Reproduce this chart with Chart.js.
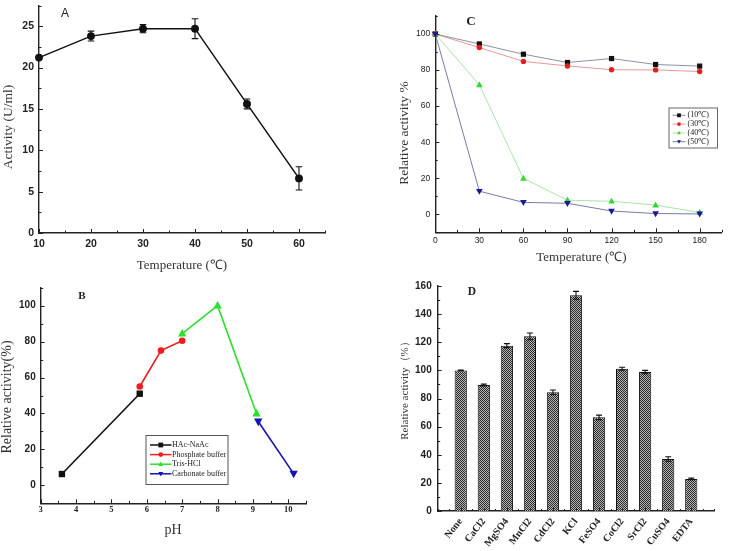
<!DOCTYPE html>
<html>
<head>
<meta charset="utf-8">
<script src="https://cdn.jsdelivr.net/npm/chart.js@4.4.1/dist/chart.umd.min.js"></script>
<style>
  body { margin: 0; background: #fff; overflow: hidden; }
  #wrap { position: relative; width: 730px; height: 551px; }
  #wrap canvas { position: absolute; }
</style>
</head>
<body>
<div id="wrap">
  <canvas id="chartA" width="365" height="275" style="left:0;top:0"></canvas>
  <canvas id="chartC" width="365" height="275" style="left:365px;top:0"></canvas>
  <canvas id="chartB" width="365" height="276" style="left:0;top:275px"></canvas>
  <canvas id="chartD" width="365" height="276" style="left:365px;top:275px"></canvas>
</div>
<script>
// A: activity vs temperature
const tempA = [10, 20, 30, 40, 50, 60];
const activityA = [21.2, 23.8, 24.7, 24.7, 15.6, 6.6];
const activityErrA = [0, 0.6, 0.5, 1.2, 0.6, 1.4];
const ticksAx = [10, 20, 30, 40, 50, 60];
const ticksAy = [0, 5, 10, 15, 20, 25];

// B: pH profile, one series per buffer
const phAcetate = [3.6, 5.8];
const relAcetate = [6.3, 51];
const phPhosphate = [5.8, 6.4, 7.0];
const relPhosphate = [55, 75, 80.5];
const phTris = [7.0, 8.0, 9.1];
const relTris = [84.5, 100, 40];
const phCarbonate = [9.15, 10.15];
const relCarbonate = [35.5, 6.5];
const ticksBx = [3, 4, 5, 6, 7, 8, 9, 10];
const ticksBy = [0, 20, 40, 60, 80, 100];

// C: thermal stability
const timeC = [0, 30, 60, 90, 120, 150, 180];
const rel10 = [100, 94.5, 88.8, 84.2, 86.4, 83.1, 82.2];
const rel30 = [100, 92.5, 84.8, 82.3, 80.2, 80.1, 79.2];
const rel40 = [100, 71.8, 19.9, 7.8, 7.2, 5.1, 1.0];
const rel50 = [100, 12.8, 6.6, 6.1, 1.8, 0.4, 0.2];
const ticksCx = [0, 30, 60, 90, 120, 150, 180];
const ticksCy = [0, 20, 40, 60, 80, 100];

// D: effect of metal ions
const ions = ['None', 'CaCl2', 'MgSO4', 'MnCl2', 'CdCl2', 'KCl', 'FeSO4', 'CoCl2', 'SrCl2', 'CuSO4', 'EDTA'];
const ionActivity = [100, 89.6, 117.6, 124.2, 84.4, 153.4, 66.6, 101.2, 98.8, 37.0, 22.8];
const ionErr = [0.3, 0.6, 1.4, 2.4, 1.6, 2.8, 1.6, 1.0, 1.2, 1.6, 0.6];
const ticksDy = [0, 20, 40, 60, 80, 100, 120, 140, 160];

const SANS = "'Liberation Sans', Arial, sans-serif";
const SERIF = "'Liberation Serif', 'Times New Roman', serif";

function xy(xs, ys) {
  return xs.map((x, i) => ({ x: x, y: ys[i] }));
}

// linear axis with fixed ticks and a fixed box size so the plot area lands where it should
function axis(min, max, values, size, font, pad, tickExtra) {
  return {
    type: 'linear', min: min, max: max, offset: false,
    grid: { display: false, drawTicks: false, offset: false },
    border: { display: true, color: '#222', width: 1.4 },
    ticks: Object.assign({ font: font, color: '#222', padding: pad, autoSkip: false,
                           minRotation: 0, maxRotation: 0 }, tickExtra || {}),
    afterBuildTicks: s => { s.ticks = values.map(v => ({ value: v })); },
    afterFit: s => {
      if (s.isHorizontal()) s.height = size; else s.width = size;
      s.paddingLeft = s.paddingRight = s.paddingTop = s.paddingBottom = 0;
    }
  };
}

function marker(ctx, style, x, y, r) {
  ctx.beginPath();
  if (style === 'rect') {
    ctx.rect(x - r, y - r, 2 * r, 2 * r);
  } else if (style === 'triangle') {
    ctx.moveTo(x, y - r * 1.1); ctx.lineTo(x + r, y + r * 0.7); ctx.lineTo(x - r, y + r * 0.7);
    ctx.closePath();
  } else if (style === 'triangleDown') {
    ctx.moveTo(x, y + r * 1.1); ctx.lineTo(x + r, y - r * 0.7); ctx.lineTo(x - r, y - r * 0.7);
    ctx.closePath();
  } else {
    ctx.arc(x, y, r, 0, Math.PI * 2);
  }
  ctx.fill();
}

// inward ticks, error bars, legend box and free text
function decor(cfg) {
  return {
    id: 'decor',
    afterDatasetsDraw(chart) {
      const ctx = chart.ctx;
      ctx.save();
      chart.data.datasets.forEach((ds, di) => {
        if (!ds.errors) return;
        const ys = chart.scales.y;
        ctx.strokeStyle = '#111';
        ctx.lineWidth = 1.1;
        chart.getDatasetMeta(di).data.forEach((el, i) => {
          const e = ds.errors[i];
          if (!e) return;
          const v = ds.data[i].y;
          const t = ys.getPixelForValue(v + e), b = ys.getPixelForValue(v - e);
          const c = cfg.cap || 3;
          ctx.beginPath();
          ctx.moveTo(el.x, t); ctx.lineTo(el.x, b);
          ctx.moveTo(el.x - c, t); ctx.lineTo(el.x + c, t);
          ctx.moveTo(el.x - c, b); ctx.lineTo(el.x + c, b);
          ctx.stroke();
        });
      });
      ctx.restore();
    },
    afterDraw(chart) {
      const ctx = chart.ctx;
      ctx.save();
      (cfg.ticks || []).forEach(t => {
        const s = chart.scales[t.axis];
        const majors = s.ticks.map(k => k.value);
        ctx.strokeStyle = '#222';
        ctx.lineWidth = 1;
        for (let v = Math.ceil(s.min / t.step - 1e-9) * t.step; v <= s.max + 1e-9; v += t.step) {
          const len = majors.some(m => Math.abs(m - v) < 1e-6) ? t.major : t.minor;
          const p = Math.round(s.getPixelForValue(v)) + 0.5;
          ctx.beginPath();
          if (s.isHorizontal()) { ctx.moveTo(p, s.top); ctx.lineTo(p, s.top - len); }
          else { ctx.moveTo(s.right, p); ctx.lineTo(s.right + len, p); }
          ctx.stroke();
        }
      });
      const L = cfg.legend;
      if (L) {
        ctx.strokeStyle = L.border;
        ctx.lineWidth = 1;
        ctx.strokeRect(L.x + 0.5, L.y + 0.5, L.w, L.h);
        chart.data.datasets.forEach((ds, i) => {
          const yy = L.y + L.first + i * L.gap;
          ctx.strokeStyle = ds.borderColor;
          ctx.lineWidth = L.lw;
          ctx.beginPath(); ctx.moveTo(L.x + L.l0, yy); ctx.lineTo(L.x + L.l1, yy); ctx.stroke();
          ctx.fillStyle = ds.pointBackgroundColor;
          marker(ctx, ds.mark, L.x + (L.l0 + L.l1) / 2, yy, L.r);
          ctx.fillStyle = '#222';
          ctx.font = L.font;
          ctx.textAlign = 'left';
          ctx.textBaseline = 'middle';
          ctx.fillText(ds.label, L.x + L.tx, yy);
        });
      }
      (cfg.texts || []).forEach(t => {
        ctx.save();
        ctx.translate(t.x, t.y);
        if (t.rotate) ctx.rotate(t.rotate);
        ctx.font = t.font;
        ctx.fillStyle = t.color || '#222';
        ctx.textAlign = 'center';
        ctx.textBaseline = 'middle';
        ctx.fillText(t.text, 0, 0);
        ctx.restore();
      });
      ctx.restore();
    }
  };
}

// custom point shapes drawn through the controller's element positions
const markers = {
  id: 'markers',
  afterDatasetsDraw(chart) {
    const ctx = chart.ctx;
    chart.data.datasets.forEach((ds, di) => {
      if (!ds.mark) return;
      ctx.fillStyle = ds.pointBackgroundColor;
      chart.getDatasetMeta(di).data.forEach(el => marker(ctx, ds.mark, el.x, el.y, ds.markSize));
    });
  }
};

const base = {
  responsive: false,
  animation: false,
  events: [],
  plugins: { legend: { display: false }, tooltip: { enabled: false } }
};

// ---- A ----
new Chart(document.getElementById('chartA'), {
  type: 'line',
  data: {
    datasets: [{
      data: xy(tempA, activityA), errors: activityErrA,
      borderColor: '#111', borderWidth: 1.5, tension: 0, clip: false,
      pointRadius: 3.2, pointBackgroundColor: '#111', pointBorderColor: '#111'
    }]
  },
  options: Object.assign({}, base, {
    layout: { padding: { left: 0, top: 2, right: 40, bottom: 0 } },
    scales: {
      x: axis(10, 65, ticksAx, 42, { family: SANS, size: 10.5, weight: 'bold' }, 5),
      y: axis(0, 27.5, ticksAy, 39, { family: SANS, size: 10.5, weight: 'bold' }, 5)
    }
  }),
  plugins: [decor({
    cap: 3.3,
    ticks: [{ axis: 'x', step: 5, major: 4, minor: 2.5 }, { axis: 'y', step: 2.5, major: 4, minor: 2.5 }],
    texts: [
      { text: 'A', x: 65, y: 14, font: '12px ' + SANS },
      { text: 'Activity (U/ml)', x: 8.5, y: 127, rotate: -Math.PI / 2, font: '13.5px ' + SERIF, color: '#333' },
      { text: 'Temperature (\u2103)', x: 182, y: 265.5, font: '13px ' + SERIF, color: '#333' }
    ]
  })]
});

// ---- B ----
const lineB = (label, xs, ys, color, mark, size) => ({
  label: label, data: xy(xs, ys), borderColor: color, borderWidth: 1.6, tension: 0, clip: false,
  pointRadius: 0, pointBackgroundColor: color, mark: mark, markSize: size
});
new Chart(document.getElementById('chartB'), {
  type: 'line',
  data: {
    datasets: [
      lineB('HAc-NaAc', phAcetate, relAcetate, '#111111', 'rect', 3.2),
      lineB('Phosphate buffer', phPhosphate, relPhosphate, '#ee1c1c', 'circle', 3.3),
      lineB('Tris-HCl', phTris, relTris, '#2de02d', 'triangle', 4.2),
      lineB('Carbonate buffer', phCarbonate, relCarbonate, '#1414b4', 'triangleDown', 4.2)
    ]
  },
  options: Object.assign({}, base, {
    layout: { padding: { left: 0, top: 12.7, right: 59, bottom: 0 } },
    scales: {
      x: axis(3, 10.5, ticksBx, 47.7, { family: SERIF, size: 8.5, weight: 'bold' }, 1),
      y: axis(-10, 110, ticksBy, 40.7, { family: SANS, size: 10, weight: 'bold' }, 5)
    }
  }),
  plugins: [markers, decor({
    ticks: [{ axis: 'x', step: 0.5, major: 4, minor: 2.5 }, { axis: 'y', step: 10, major: 4, minor: 2.5 }],
    legend: { x: 145.5, y: 160, w: 82, h: 49, first: 10, gap: 9.6, l0: 4.5, l1: 26, tx: 26.5, r: 2.4, lw: 1.5,
              border: '#555', font: '8px ' + SERIF },
    texts: [
      { text: 'B', x: 82, y: 21, font: 'bold 11px ' + SERIF },
      { text: 'Relative activity(%)', x: 7.5, y: 122, rotate: -Math.PI / 2, font: '14px ' + SERIF, color: '#333' },
      { text: 'pH', x: 173, y: 255, font: '14px ' + SERIF, color: '#333' }
    ]
  })]
});

// ---- C ----
const lineC = (label, ys, line, color, mark, size) => ({
  label: label, data: xy(timeC, ys), borderColor: line, borderWidth: 1, tension: 0, clip: false,
  pointRadius: 0, pointBackgroundColor: color, mark: mark, markSize: size
});
new Chart(document.getElementById('chartC'), {
  type: 'line',
  data: {
    datasets: [
      lineC('(10\u2103)', rel10, '#8f90a6', '#111111', 'rect', 2.6),
      lineC('(30\u2103)', rel30, '#e59a9a', '#e41f1f', 'circle', 2.7),
      lineC('(40\u2103)', rel40, '#a9e6a6', '#35d835', 'triangle', 3.3),
      lineC('(50\u2103)', rel50, '#7a7aa8', '#17179a', 'triangleDown', 3.3)
    ]
  },
  options: Object.assign({}, base, {
    layout: { padding: { left: 0, top: 16, right: 8.3, bottom: 0 } },
    scales: {
      x: axis(0, 195, ticksCx, 42.7, { family: SANS, size: 8.5 }, 3.5),
      y: axis(-10, 110, ticksCy, 70.3, { family: SANS, size: 8.5 }, 5)
    }
  }),
  plugins: [markers, decor({
    ticks: [{ axis: 'x', step: 15, major: 4, minor: 2.5 }, { axis: 'y', step: 10, major: 4, minor: 2.5 }],
    legend: { x: 303.5, y: 107.5, w: 48.5, h: 40, first: 7.8, gap: 8.8, l0: 4, l1: 17, tx: 19, r: 1.9, lw: 1,
              border: '#666', font: '8px ' + SERIF },
    texts: [
      { text: 'C', x: 106, y: 22, font: 'bold 13px ' + SERIF },
      { text: 'Relative activity %', x: 39.5, y: 133, rotate: -Math.PI / 2, font: '13.5px ' + SERIF, color: '#333' },
      { text: 'Temperature (\u2103)', x: 216.5, y: 258, font: '13px ' + SERIF, color: '#333' }
    ]
  })]
});

// ---- D ----
function hatch(ctx) {
  const c = document.createElement('canvas');
  c.width = 2; c.height = 2;
  const g = c.getContext('2d');
  g.fillStyle = '#b4b4b4'; g.fillRect(0, 0, 2, 2);
  g.fillStyle = '#2a2a2a'; g.fillRect(0, 0, 1, 1); g.fillRect(1, 1, 1, 1);
  return ctx.createPattern(c, 'repeat');
}
const canvasD = document.getElementById('chartD');
const positionsD = ions.map((_, i) => i + 1);
new Chart(canvasD, {
  type: 'bar',
  data: {
    datasets: [{
      data: xy(positionsD, ionActivity), errors: ionErr,
      backgroundColor: hatch(canvasD.getContext('2d')), borderColor: '#111', borderWidth: 1,
      categoryPercentage: 1, barPercentage: 0.53
    }]
  },
  options: Object.assign({}, base, {
    layout: { padding: { left: 0, top: 11, right: 15.7, bottom: 0 } },
    scales: {
      x: axis(0, 12, positionsD, 40, { family: SERIF, size: 10, weight: 'bold' }, 5,
              { minRotation: 52, maxRotation: 52, callback: v => ions[v - 1] || '' }),
      y: axis(0, 160, ticksDy, 72.7, { family: SANS, size: 10, weight: 'bold' }, 6)
    }
  }),
  plugins: [decor({
    cap: 3,
    ticks: [{ axis: 'x', step: 0.5, major: 3, minor: 2 }, { axis: 'y', step: 10, major: 4, minor: 2.5 }],
    texts: [
      { text: 'D', x: 107, y: 17, font: 'bold 11.5px ' + SERIF },
      { text: 'Relative activity\uFF08%\uFF09', x: 40.5, y: 113, rotate: -Math.PI / 2, font: '11px ' + SERIF, color: '#333' }
    ]
  })]
});
</script>
</body>
</html>
